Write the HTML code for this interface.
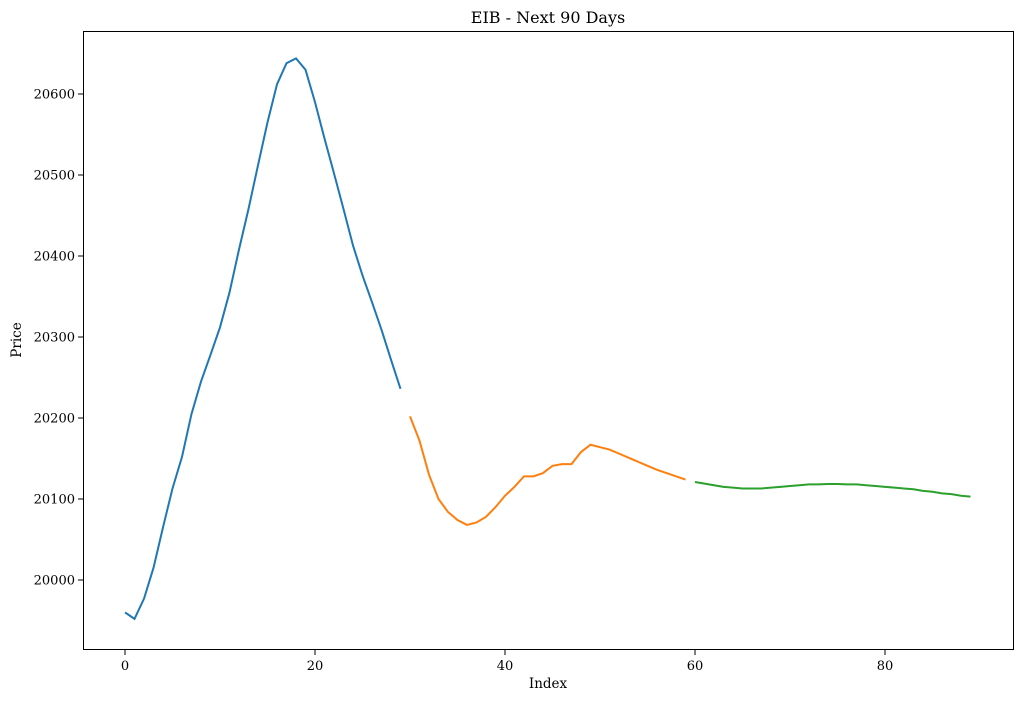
<!DOCTYPE html>
<html><head><meta charset="utf-8"><style>
body{margin:0;background:#fff;}
svg text{font-family:"DejaVu Serif","Liberation Serif",serif;fill:#000;}
</style></head><body>
<svg id="chart" width="1023" height="700" xmlns="http://www.w3.org/2000/svg">
<rect width="1023" height="700" fill="#fff"/>
<text x="548" y="23" font-size="16" text-anchor="middle">EIB - Next 90 Days</text>
<text x="548" y="688" font-size="13.5" text-anchor="middle">Index</text>
<text x="21" y="340" font-size="13.5" text-anchor="middle" transform="rotate(-90 21 340)">Price</text>
<g id="plot"></g>
<rect x="83.5" y="31.5" width="930" height="618" fill="none" stroke="#000" stroke-width="1"/>
</svg>
<script>
const xTicks=[0,20,40,60,80];
const yTicks=[20000,20100,20200,20300,20400,20500,20600];
const blue=[19960,19952,19977,20015,20065,20113,20152,20205,20245,20278,20312,20355,20408,20458,20512,20565,20612,20638,20644,20630,20590,20545,20502,20458,20413,20376,20343,20309,20272,20236];
const orange=[20202,20172,20130,20100,20084,20074,20068,20071,20078,20090,20104,20115,20128,20128,20132,20141,20143,20143,20158,20167,20164,20161,20156,20151,20146,20141,20136,20132,20128,20124];
const green=[20121,20119,20117,20115,20114,20113,20113,20113,20114,20115,20116,20117,20118,20118,20118.5,20118.5,20118,20118,20117,20116,20115,20114,20113,20112,20110,20109,20107,20106,20104,20103];
const NS='http://www.w3.org/2000/svg';
const g=document.getElementById('plot');
const sx=v=>125+v*(885-125)/80;
const sy=v=>580-(v-20000)*0.81;
function mk(t){return document.createElementNS(NS,t);}
xTicks.forEach(t=>{
 const l=mk('line');l.setAttribute('x1',sx(t));l.setAttribute('x2',sx(t));l.setAttribute('y1',650);l.setAttribute('y2',655);l.setAttribute('stroke','#000');
 
 
 g.appendChild(l);
 const tx=mk('text');tx.setAttribute('x',sx(t));tx.setAttribute('y',670);tx.setAttribute('font-size','13');tx.setAttribute('text-anchor','middle');tx.textContent=t;
 
 
 g.appendChild(tx);
});
yTicks.forEach(t=>{
 const l=mk('line');l.setAttribute('x1',78);l.setAttribute('x2',83);l.setAttribute('y1',sy(t));l.setAttribute('y2',sy(t));l.setAttribute('stroke','#000');
 
 
 g.appendChild(l);
 const tx=mk('text');tx.setAttribute('x',75);tx.setAttribute('y',sy(t)+4.5);tx.setAttribute('font-size','13');tx.setAttribute('text-anchor','end');tx.textContent=t;
 
 
 g.appendChild(tx);
});
function series(arr,off,color,name){
 const p=mk('polyline');
 p.setAttribute('points',arr.map((v,i)=>sx(i+off)+','+sy(v)).join(' '));
 p.setAttribute('fill','none');p.setAttribute('stroke',color);p.setAttribute('stroke-width','2');
 
 
 g.appendChild(p);
}
series(blue,0,'#1f77b4','history-line');
series(orange,30,'#ff7f0e','forecast-line-1');
series(green,60,'#2ca02c','forecast-line-2');
</script>
</body></html>
